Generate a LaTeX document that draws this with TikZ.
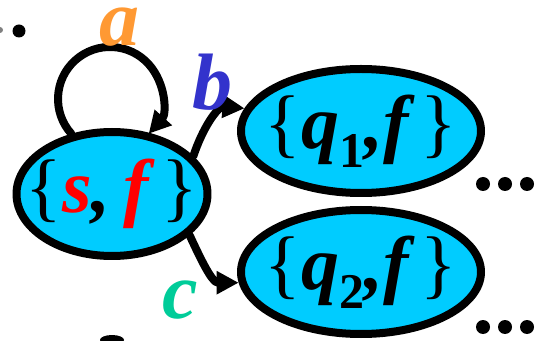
\documentclass[tikz,border=0pt]{standalone}
\usepackage{fontspec}
\setmainfont{Liberation Serif}
\usetikzlibrary{arrows.meta,shapes.geometric}
\definecolor{statecyan}{RGB}{0,204,255}
\definecolor{symorange}{RGB}{255,153,51}
\definecolor{symblue}{RGB}{51,51,204}
\definecolor{symgreen}{RGB}{0,204,153}
\newcommand{\opset}{{\upshape\mdseries\{}}
\newcommand{\clset}{{\upshape\mdseries\}}}
\newcommand{\subidx}[1]{\raisebox{-0.25em}{\fontsize{50}{50}\selectfont\upshape #1}}

\begin{document}
\begin{tikzpicture}[line cap=round,line join=round,>={Triangle[length=22pt,width=22pt]},x=1pt,y=1pt,
	state/.style={ellipse,draw=black,fill=statecyan,line width=8pt,minimum width=240pt,minimum height=124pt,inner sep=-30pt,font=\fontsize{76}{80}\selectfont\bfseries\itshape},
	trans/.style={->,line width=8pt},
	sym/.style={anchor=base,inner sep=0pt,font=\fontsize{80}{84}\selectfont\bfseries\itshape}]
			\useasboundingbox (0,0) rectangle (546,340);
			\node[state,minimum width=191pt] (sf) at (112,146) {\opset{\color{red}s},\,{\color{red}f}\,\clset};
			\node[state] (q1) at (361,209) {\opset q\subidx{1},f\,\clset};
			\node[state] (q2) at (361,68) {\opset q\subidx{2},f\,\clset};
			\draw[trans] (sf.124) arc[start angle=222,end angle=-42,radius=52pt];
			\draw[trans] (sf.25) to[out=72,in=175] (q1.169);
			\draw[trans] (sf.-28) to[out=-65,in=180] (q2.185);
			\node[sym,text=symorange,text height=0.5em] (a) at (119,294) {a};
			\node[sym,text=symblue] (b) at (212,230) {b};
			\node[sym,text=symgreen] (c) at (180,22) {c};
			\foreach \x in {483,505,527} {
				\fill (\x,156) circle (7pt);
				\fill (\x,13) circle (7pt);
			}
			\fill (19,309) circle (6.5pt);
			\fill[gray] (0,310) circle (3pt);
			\fill (112,0) ellipse [x radius=12pt, y radius=5pt];
\end{tikzpicture}
\end{document}
